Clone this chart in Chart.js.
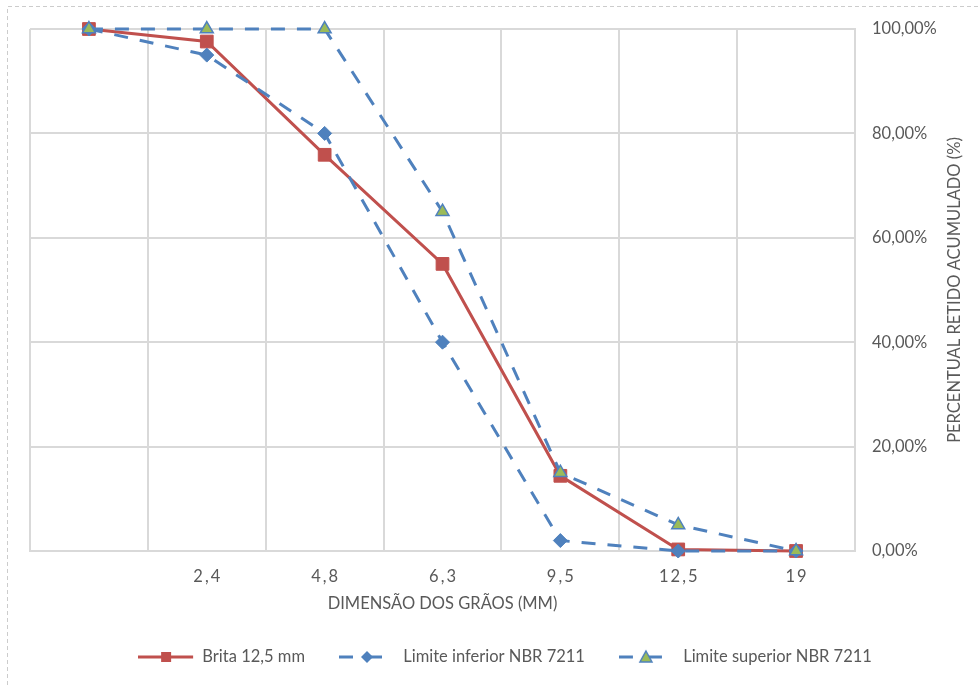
<!DOCTYPE html>
<html>
<head>
<meta charset="utf-8">
<script src="https://cdn.jsdelivr.net/npm/chart.js@4"></script>
<style>
  html, body { margin: 0; padding: 0; background: #ffffff; }
  #caixa { position: relative; width: 980px; height: 685px; }
</style>
</head>
<body>
<div id="caixa"><canvas id="graficoGranulometria" width="980" height="685"></canvas></div>
<script>
// --- dados da curva granulométrica ---
const peneiras = ['', '2,4', '4,8', '6,3', '9,5', '12,5', '19'];
const brita125 = [100, 97.6, 75.9, 55.0, 14.4, 0.3, 0];
const limiteInferior = [100, 95, 80, 40, 2, 0, 0];
const limiteSuperior = [100, 100, 100, 65, 15, 5, 0];
const nomesSeries = ['Brita 12,5 mm', 'Limite inferior NBR 7211', 'Limite superior NBR 7211'];
const ticksY = [0, 20, 40, 60, 80, 100];

const VERMELHO = '#C0504D';
const AZUL = '#4F81BD';
const VERDE = '#9BBB59';
const TEXTO = '#595959';
const GRADE = '#d9d9d9';
const FONTE = 'Lato, "Open Sans", sans-serif';

Chart.defaults.font.family = FONTE;
Chart.defaults.font.size = 16.5;
Chart.defaults.color = TEXTO;

// amostras da legenda (linha + marcador), desenhadas num canvas pequeno
function criarAmostra(tipo) {
    const c = document.createElement('canvas');
    c.width = 56;
    c.height = 16;
    const g = c.getContext('2d');
    const meio = 8;
    g.lineWidth = 3;
    if (tipo === 'brita') {
        g.strokeStyle = VERMELHO;
        g.beginPath(); g.moveTo(0, meio); g.lineTo(55, meio); g.stroke();
        g.fillStyle = VERMELHO;
        g.fillRect(23, meio - 5, 10, 10);
    } else {
        g.strokeStyle = AZUL;
        g.beginPath(); g.moveTo(0, meio); g.lineTo(14, meio); g.stroke();
        g.beginPath(); g.moveTo(30, meio); g.lineTo(43, meio); g.stroke();
        if (tipo === 'inferior') {
            g.fillStyle = AZUL;
            g.beginPath();
            g.moveTo(28, meio - 6); g.lineTo(34, meio); g.lineTo(28, meio + 6); g.lineTo(22, meio);
            g.closePath(); g.fill();
        } else {
            g.fillStyle = VERDE;
            g.strokeStyle = AZUL;
            g.lineWidth = 1.5;
            g.beginPath();
            g.moveTo(27, meio - 6); g.lineTo(33, meio + 5); g.lineTo(21, meio + 5);
            g.closePath(); g.fill(); g.stroke();
        }
    }
    return c;
}

const amostras = [criarAmostra('brita'), criarAmostra('inferior'), criarAmostra('superior')];

// moldura tracejada e título do eixo vertical (lido de baixo para cima)
const extras = {
    id: 'extras',
    afterDraw(chart) {
        const ctx = chart.ctx;
        const area = chart.chartArea;
        ctx.save();
        ctx.strokeStyle = '#cccccc';
        ctx.lineWidth = 1;
        ctx.setLineDash([4, 3]);
        ctx.beginPath();
        ctx.moveTo(7.5, 685);
        ctx.lineTo(7.5, 6.5);
        ctx.lineTo(980, 6.5);
        ctx.stroke();
        ctx.setLineDash([]);
        ctx.fillStyle = TEXTO;
        ctx.font = '16.5px ' + FONTE;
        ctx.textAlign = 'center';
        ctx.textBaseline = 'middle';
        ctx.translate(955, (area.top + area.bottom) / 2);
        ctx.rotate(-Math.PI / 2);
        ctx.fillText('PERCENTUAL RETIDO ACUMULADO (%)', 0, 0);
        ctx.restore();
    }
};

const ctx = document.getElementById('graficoGranulometria').getContext('2d');

new Chart(ctx, {
    type: 'line',
    data: {
        labels: peneiras,
        datasets: [
            {
                label: nomesSeries[0],
                data: brita125,
                order: 3,
                borderColor: VERMELHO,
                backgroundColor: VERMELHO,
                borderWidth: 3,
                pointStyle: 'rect',
                pointRadius: 9,
                pointBorderWidth: 1,
                pointBackgroundColor: VERMELHO,
                pointBorderColor: VERMELHO,
                clip: false
            },
            {
                label: nomesSeries[1],
                data: limiteInferior,
                order: 2,
                borderColor: AZUL,
                backgroundColor: AZUL,
                borderWidth: 3,
                borderDash: [14, 12],
                pointStyle: 'rectRot',
                pointRadius: 7,
                pointBorderWidth: 1,
                pointBackgroundColor: AZUL,
                pointBorderColor: AZUL,
                clip: false
            },
            {
                label: nomesSeries[2],
                data: limiteSuperior,
                order: 1,
                borderColor: AZUL,
                backgroundColor: VERDE,
                borderWidth: 3,
                borderDash: [14, 12],
                pointStyle: 'triangle',
                pointRadius: 7.5,
                pointBorderWidth: 1.5,
                pointBackgroundColor: VERDE,
                pointBorderColor: AZUL,
                clip: false
            }
        ]
    },
    options: {
        responsive: false,
        animation: false,
        layout: {
            padding: { left: 30, top: 29, right: 0, bottom: 9.75 }
        },
        plugins: {
            tooltip: { enabled: false },
            legend: {
                position: 'bottom',
                labels: {
                    usePointStyle: true,
                    pointStyleWidth: 56,
                    padding: 34,
                    color: TEXTO,
                    font: { size: 16.5 },
                    generateLabels: function(chart) {
                        return chart.data.datasets.map((ds, i) => ({
                            text: ds.label,
                            pointStyle: amostras[i],
                            fillStyle: 'transparent',
                            strokeStyle: 'transparent',
                            lineWidth: 0,
                            fontColor: TEXTO,
                            hidden: !chart.isDatasetVisible(i),
                            datasetIndex: i
                        }));
                    }
                }
            }
        },
        scales: {
            x: {
                offset: true,
                grid: { offset: true, color: GRADE, lineWidth: 2, drawTicks: false },
                border: { color: GRADE, width: 2 },
                ticks: {
                    color: TEXTO,
                    padding: 16,
                    maxRotation: 0,
                    autoSkip: false,
                    callback: function(valor, i) {
                        return peneiras[i].split('').join('\u2009');
                    }
                },
                title: {
                    display: true,
                    text: 'DIMENSÃO DOS GRÃOS (MM)',
                    color: TEXTO,
                    font: { size: 16.5 },
                    padding: { top: 0, bottom: 1 }
                },
                afterFit: function(escala) { escala.height = 63.75; }
            },
            y: {
                position: 'right',
                min: 0,
                max: 100,
                grid: { color: GRADE, lineWidth: 2, drawTicks: false },
                border: { display: true, color: GRADE, width: 2 },
                ticks: {
                    color: TEXTO,
                    padding: 17,
                    callback: function(valor) {
                        return valor.toFixed(2).replace('.', ',') + '%';
                    }
                },
                afterBuildTicks: function(escala) {
                    escala.ticks = ticksY.map(v => ({ value: v }));
                },
                afterFit: function(escala) { escala.width = 125; }
            }
        }
    },
    plugins: [extras]
});
</script>
</body>
</html>
